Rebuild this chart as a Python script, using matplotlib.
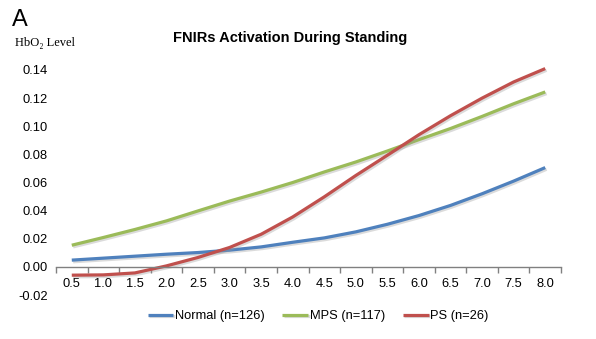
import matplotlib
matplotlib.use("Agg")
import matplotlib.pyplot as plt
import matplotlib.patheffects as pe
import numpy as np

plt.rcParams['font.family'] = ['Liberation Sans', 'DejaVu Sans']

categories = ["0.5", "1.0", "1.5", "2.0", "2.5", "3.0", "3.5", "4.0",
              "4.5", "5.0", "5.5", "6.0", "6.5", "7.0", "7.5", "8.0"]
normal = [0.0048, 0.0062, 0.0076, 0.0090, 0.0102, 0.0119, 0.0142, 0.0175,
          0.0206, 0.0249, 0.0303, 0.0365, 0.0437, 0.0520, 0.0610, 0.0706]
mps = [0.0154, 0.0209, 0.0266, 0.0327, 0.0398, 0.0468, 0.0532, 0.0600,
       0.0675, 0.0746, 0.0824, 0.0905, 0.0984, 0.1070, 0.1160, 0.1244]
ps = [-0.0059, -0.0057, -0.0043, 0.0007, 0.0067, 0.0138, 0.0232, 0.0355,
      0.0498, 0.0650, 0.0794, 0.0940, 0.1075, 0.1200, 0.1315, 0.1410]
series_names = ["Normal (n=126)", "MPS (n=117)", "PS (n=26)"]
colors = ["#4F81BD", "#9BBB59", "#C0504D"]
yticks = [-0.02, 0.0, 0.02, 0.04, 0.06, 0.08, 0.10, 0.12, 0.14]

fig = plt.figure(figsize=(5.96, 3.39), dpi=100)
ax = fig.add_axes([56/596, 1-295/339, (561-56)/596, (295-70)/339])

x = np.arange(len(categories))
shadow = [pe.SimpleLineShadow(offset=(1, -1.2), shadow_color='#999999', alpha=0.35), pe.Normal()]
for vals, name, c in zip([normal, mps, ps], series_names, colors):
    ax.plot(x, vals, color=c, lw=2.3, label=name, solid_capstyle='butt',
            solid_joinstyle='round', path_effects=shadow, clip_on=False)

ax.set_xlim(-0.5, len(categories) - 0.5)
ax.set_ylim(-0.02, 0.14)
ax.set_yticks(yticks)
ax.set_yticklabels([f"{v:.2f}" for v in yticks], fontsize=9.3)
ax.tick_params(axis='y', length=0, pad=6)

ax.spines['left'].set_visible(False)
ax.spines['right'].set_visible(False)
ax.spines['top'].set_visible(False)
ax.spines['bottom'].set_position(('data', 0))
ax.spines['bottom'].set_color('#808080')
ax.spines['bottom'].set_linewidth(1.0)

ax.set_xticks(x)
ax.set_xticklabels(categories, fontsize=9.3)
ax.set_xticks(np.arange(len(categories) + 1) - 0.5, minor=True)
ax.tick_params(axis='x', which='major', length=0, pad=8)
ax.tick_params(axis='x', which='minor', length=4, color='#808080', width=1.0, direction='out')

fig.text(290/596, 1-38/339, "FNIRs Activation During Standing", ha='center', va='center',
         fontsize=10.5, fontweight='bold')
fig.text(12/596, 1-20/339, "A", ha='left', va='center', fontsize=17)
fig.text(15/596, 1-43/339, "HbO₂ Level", ha='left', va='center', fontsize=9,
         family=['Liberation Serif', 'DejaVu Serif'])

leg = fig.legend(loc='center', bbox_to_anchor=(318/596, 1-316/339), ncol=3, frameon=False,
                 fontsize=9.3, handlelength=2.0, handletextpad=0.1, columnspacing=1.4)

fig.savefig("out.png", dpi=100)
